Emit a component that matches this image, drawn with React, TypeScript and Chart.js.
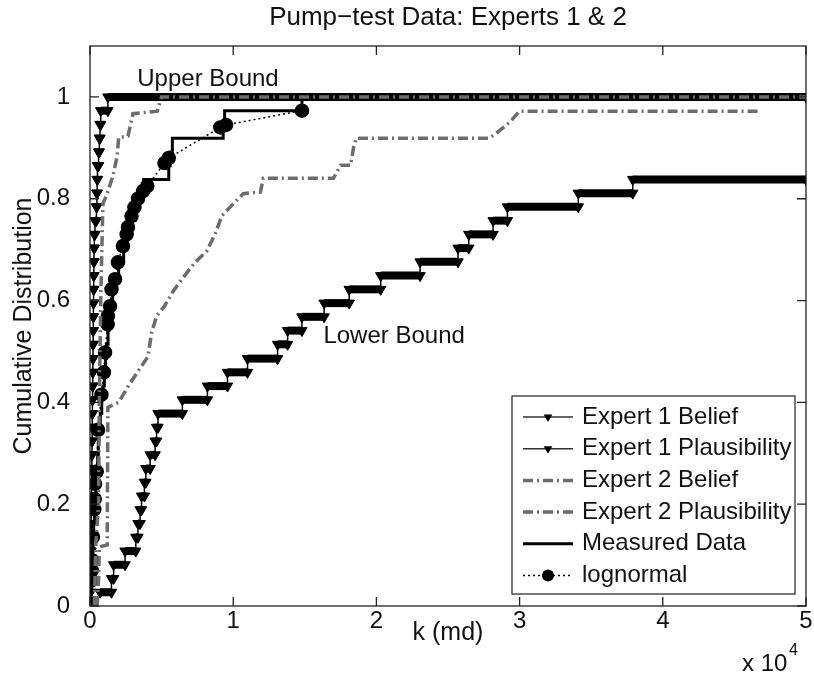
import React, { useEffect, useRef } from "react";
import { Chart, registerables } from "chart.js";

Chart.register(...registerables);

const FONT = "'Liberation Sans', Arial, Helvetica, sans-serif";
const TITLE = "Pump\u2212test Data: Experts 1 & 2";
const X_LABEL = "k (md)";
const Y_LABEL = "Cumulative Distribution";
const X_MULT = "x 10";
const X_MULT_EXP = "4";
const UPPER_LABEL = "Upper Bound";
const LOWER_LABEL = "Lower Bound";

const xTickValues = [0, 1, 2, 3, 4, 5];
const yTickValues = [0, 0.2, 0.4, 0.6, 0.8, 1];

const legendLabels = [
  "Expert 1 Belief",
  "Expert 1 Plausibility",
  "Expert 2 Belief",
  "Expert 2 Plausibility",
  "Measured Data",
  "lognormal",
];

// k in units of 10^4 md
// Expert 1 Belief (lower bound): step risers x -> new level y
const e1BeliefX = [0.07, 0.15, 0.165, 0.245, 0.32, 0.335, 0.35, 0.36, 0.38, 0.39, 0.42, 0.455, 0.465, 0.475, 0.645, 0.82, 0.96, 1.1, 1.31, 1.38, 1.48, 1.635, 1.81, 2.03, 2.305, 2.57, 2.645, 2.815, 2.915, 3.41, 3.79];
const e1BeliefY = [0.027, 0.054, 0.081, 0.108, 0.135, 0.162, 0.189, 0.216, 0.243, 0.27, 0.297, 0.324, 0.351, 0.378, 0.405, 0.432, 0.459, 0.486, 0.514, 0.541, 0.568, 0.595, 0.622, 0.649, 0.676, 0.703, 0.73, 0.757, 0.784, 0.811, 0.838];
const e1BeliefEnd = 5.0;

// Expert 1 Plausibility (upper bound)
const e1PlausX = [0.0, 0.003, 0.005, 0.006, 0.007, 0.008, 0.009, 0.01, 0.011, 0.012, 0.013, 0.014, 0.015, 0.016, 0.017, 0.018, 0.019, 0.02, 0.021, 0.022, 0.023, 0.024, 0.025, 0.026, 0.027, 0.028, 0.03, 0.035, 0.045, 0.048, 0.05, 0.052, 0.06, 0.065, 0.07, 0.075, 0.125];
const e1PlausY = [0.027, 0.054, 0.081, 0.108, 0.135, 0.162, 0.189, 0.216, 0.243, 0.27, 0.297, 0.324, 0.351, 0.378, 0.405, 0.432, 0.459, 0.486, 0.514, 0.541, 0.568, 0.595, 0.622, 0.649, 0.676, 0.703, 0.73, 0.757, 0.784, 0.811, 0.838, 0.865, 0.892, 0.919, 0.946, 0.973, 1.0];
const e1PlausEnd = 5.0;

// Expert 2 Belief
const e2BeliefX = [0.05, 0.06, 0.065, 0.12, 0.125, 0.2, 0.265, 0.335, 0.405, 0.43, 0.466, 0.52, 0.58, 0.65, 0.733, 0.815, 0.873, 0.92, 0.99, 1.07, 1.19, 1.21, 1.7, 1.75, 1.82, 1.84, 1.86, 2.79, 2.83, 2.93, 3.0, 4.68];
const e2BeliefY = [0, 0.05, 0.116, 0.12, 0.39, 0.4, 0.431, 0.461, 0.49, 0.537, 0.57, 0.589, 0.618, 0.645, 0.675, 0.697, 0.73, 0.766, 0.787, 0.81, 0.813, 0.84, 0.84, 0.866, 0.866, 0.9, 0.919, 0.919, 0.927, 0.95, 0.972, 0.972];

// Expert 2 Plausibility
const e2PlausX = [0.03, 0.035, 0.04, 0.06, 0.065, 0.075, 0.09, 0.12, 0.16, 0.19, 0.2, 0.265, 0.3, 0.47, 0.5, 5.0];
const e2PlausY = [0, 0.05, 0.12, 0.2, 0.4, 0.6, 0.79, 0.81, 0.845, 0.884, 0.92, 0.923, 0.967, 0.972, 1.0, 1.0];

// Measured data (empirical CDF risers)
const measuredX = [0, 0.008, 0.011, 0.015, 0.018, 0.022, 0.026, 0.032, 0.036, 0.042, 0.05, 0.054, 0.058, 0.062, 0.072, 0.082, 0.09, 0.1, 0.108, 0.114, 0.126, 0.132, 0.146, 0.158, 0.18, 0.2, 0.235, 0.26, 0.29, 0.315, 0.34, 0.375, 0.55, 0.56, 0.575, 0.93, 0.94, 1.48];
const measuredY = [0, 0.027, 0.054, 0.081, 0.108, 0.135, 0.162, 0.189, 0.216, 0.243, 0.27, 0.297, 0.324, 0.351, 0.378, 0.405, 0.432, 0.459, 0.486, 0.514, 0.541, 0.568, 0.595, 0.622, 0.649, 0.676, 0.703, 0.73, 0.757, 0.784, 0.811, 0.838, 0.865, 0.892, 0.919, 0.946, 0.973, 1.0];

// Lognormal fit
const lognormX = [0.0, 0.01, 0.012, 0.015, 0.02, 0.03, 0.033, 0.035, 0.047, 0.056, 0.08, 0.097, 0.105, 0.123, 0.125, 0.14, 0.15, 0.175, 0.195, 0.23, 0.256, 0.265, 0.29, 0.31, 0.335, 0.37, 0.4, 0.52, 0.55, 0.91, 0.95, 1.48];
const lognormY = [0.005, 0.05, 0.07, 0.09, 0.136, 0.19, 0.21, 0.24, 0.264, 0.346, 0.415, 0.459, 0.498, 0.553, 0.57, 0.589, 0.622, 0.642, 0.675, 0.707, 0.73, 0.744, 0.766, 0.783, 0.8, 0.815, 0.825, 0.87, 0.88, 0.94, 0.945, 0.973];

const BLACK = "#000000";
const GRAY = "#6c6c6c";
const TEXT = "#111111";
const DASHDOT = [10, 4, 2, 4];
const DOTTED = [2, 3];

function stairs(xs: number[], ys: number[], xEnd: number) {
  const pts: { x: number; y: number }[] = [];
  for (let i = 0; i < xs.length; i++) {
    const next = i + 1 < xs.length ? xs[i + 1] : xEnd;
    pts.push({ x: xs[i], y: ys[i] });
    pts.push({ x: next, y: ys[i] });
  }
  return pts;
}

function pairs(xs: number[], ys: number[]) {
  return xs.map((x, i) => ({ x, y: ys[i] }));
}

const bandSegment = {
  borderWidth: (c: any) =>
    c.p0.parsed.y === c.p1.parsed.y && c.p1.parsed.x - c.p0.parsed.x > 1e-9 ? 8 : 1.5,
};

function drawDownTriangle(ctx: CanvasRenderingContext2D, x: number, y: number, r: number) {
  ctx.beginPath();
  ctx.moveTo(x, y + r);
  ctx.lineTo(x - r * 0.866, y - r * 0.5);
  ctx.lineTo(x + r * 0.866, y - r * 0.5);
  ctx.closePath();
  ctx.fill();
}

const decorPlugin = {
  id: "decor",
  afterDatasetsDraw(chart: any) {
    const { ctx, chartArea: a, scales } = chart;
    const x = scales.x;
    const y = scales.y;
    ctx.save();
    // axes box
    ctx.strokeStyle = "#222";
    ctx.lineWidth = 1.3;
    ctx.strokeRect(a.left, a.top, a.right - a.left, a.bottom - a.top);
    // inward ticks on all four sides
    const tl = 9;
    ctx.beginPath();
    for (const v of xTickValues) {
      const px = x.getPixelForValue(v);
      ctx.moveTo(px, a.bottom);
      ctx.lineTo(px, a.bottom - tl);
      ctx.moveTo(px, a.top);
      ctx.lineTo(px, a.top + tl);
    }
    for (const v of yTickValues) {
      const py = y.getPixelForValue(v);
      ctx.moveTo(a.left, py);
      ctx.lineTo(a.left + tl, py);
      ctx.moveTo(a.right, py);
      ctx.lineTo(a.right - tl, py);
    }
    ctx.stroke();

    // annotations
    ctx.fillStyle = TEXT;
    ctx.font = `24px ${FONT}`;
    ctx.textBaseline = "middle";
    ctx.textAlign = "left";
    ctx.fillText(UPPER_LABEL, x.getPixelForValue(0.33), y.getPixelForValue(1.035));
    ctx.fillText(LOWER_LABEL, x.getPixelForValue(1.63), y.getPixelForValue(0.53));

    // x 10^4 multiplier
    ctx.font = `24px ${FONT}`;
    ctx.fillText(X_MULT, 742, 664);
    ctx.font = `16px ${FONT}`;
    ctx.fillText(X_MULT_EXP, 789, 651);

    // legend
    const L = { left: 512, top: 396, right: 795, bottom: 594 };
    ctx.fillStyle = "#ffffff";
    ctx.fillRect(L.left, L.top, L.right - L.left, L.bottom - L.top);
    ctx.strokeStyle = "#222";
    ctx.lineWidth = 1.2;
    ctx.strokeRect(L.left, L.top, L.right - L.left, L.bottom - L.top);
    const s0 = 523;
    const s1 = 573;
    const sm = 548;
    legendLabels.forEach((label, i) => {
      const cy = L.top + 21 + i * 31.7;
      ctx.save();
      if (i === 0 || i === 1) {
        ctx.strokeStyle = "#333";
        ctx.lineWidth = 1.5;
        ctx.setLineDash([]);
        ctx.beginPath();
        ctx.moveTo(s0, cy);
        ctx.lineTo(s1, cy);
        ctx.stroke();
        ctx.fillStyle = BLACK;
        drawDownTriangle(ctx, sm, cy, 5);
      } else if (i === 2 || i === 3) {
        ctx.strokeStyle = GRAY;
        ctx.lineWidth = 3.5;
        ctx.setLineDash(DASHDOT);
        ctx.beginPath();
        ctx.moveTo(s0, cy);
        ctx.lineTo(s1, cy);
        ctx.stroke();
      } else if (i === 4) {
        ctx.strokeStyle = BLACK;
        ctx.lineWidth = 3;
        ctx.beginPath();
        ctx.moveTo(s0, cy);
        ctx.lineTo(s1, cy);
        ctx.stroke();
      } else {
        ctx.strokeStyle = BLACK;
        ctx.lineWidth = 1.5;
        ctx.setLineDash(DOTTED);
        ctx.beginPath();
        ctx.moveTo(s0, cy);
        ctx.lineTo(s1, cy);
        ctx.stroke();
        ctx.setLineDash([]);
        ctx.fillStyle = BLACK;
        ctx.beginPath();
        ctx.arc(sm, cy, 6, 0, Math.PI * 2);
        ctx.fill();
      }
      ctx.restore();
      ctx.fillStyle = TEXT;
      ctx.font = `24px ${FONT}`;
      ctx.textAlign = "left";
      ctx.textBaseline = "middle";
      ctx.fillText(label, 582, cy);
    });
    ctx.restore();
  },
};

export default function App() {
  const ref = useRef<HTMLCanvasElement | null>(null);

  useEffect(() => {
    if (!ref.current) return;
    const tickFont = { family: FONT, size: 24 };
    const chart = new Chart(ref.current, {
      type: "line",
      data: {
        datasets: [
          {
            label: legendLabels[3],
            data: pairs(e2PlausX, e2PlausY),
            borderColor: GRAY,
            borderWidth: 3.5,
            borderDash: DASHDOT,
            pointRadius: 0,
            fill: false,
          },
          {
            label: legendLabels[2],
            data: pairs(e2BeliefX, e2BeliefY),
            borderColor: GRAY,
            borderWidth: 3.5,
            borderDash: DASHDOT,
            pointRadius: 0,
            fill: false,
          },
          {
            label: legendLabels[5],
            data: pairs(lognormX, lognormY),
            borderColor: BLACK,
            borderWidth: 1.5,
            borderDash: DOTTED,
            pointRadius: 6.5,
            pointStyle: "circle",
            pointBackgroundColor: BLACK,
            pointBorderColor: BLACK,
            fill: false,
          },
          {
            label: legendLabels[4],
            data: pairs(measuredX, measuredY),
            stepped: "before",
            borderColor: BLACK,
            borderWidth: 3,
            pointRadius: 0,
            fill: false,
          },
          {
            label: legendLabels[1],
            data: stairs(e1PlausX, e1PlausY, e1PlausEnd),
            borderColor: BLACK,
            borderWidth: 1.5,
            segment: bandSegment,
            pointRadius: 6,
            pointStyle: "triangle",
            pointRotation: 180,
            pointBackgroundColor: BLACK,
            pointBorderColor: BLACK,
            pointBorderWidth: 1,
            fill: false,
          },
          {
            label: legendLabels[0],
            data: stairs(e1BeliefX, e1BeliefY, e1BeliefEnd),
            borderColor: BLACK,
            borderWidth: 1.5,
            segment: bandSegment,
            pointRadius: 6,
            pointStyle: "triangle",
            pointRotation: 180,
            pointBackgroundColor: BLACK,
            pointBorderColor: BLACK,
            pointBorderWidth: 1,
            fill: false,
          },
        ] as any,
      },
      options: {
        responsive: false,
        maintainAspectRatio: false,
        devicePixelRatio: 1,
        animation: false,
        events: [],
        layout: { padding: { top: 2, right: 8, bottom: 0, left: 0 } },
        plugins: {
          legend: { display: false },
          tooltip: { enabled: false },
          title: {
            display: true,
            fullSize: false,
            text: TITLE,
            color: TEXT,
            font: { family: FONT, size: 26, weight: "normal" },
            padding: { top: 0, bottom: 12.8 },
          },
        },
        scales: {
          x: {
            type: "linear",
            min: 0,
            max: 5,
            afterBuildTicks: (s: any) => {
              s.ticks = xTickValues.map((v) => ({ value: v }));
            },
            afterFit: (s: any) => {
              s.height = 79;
              s.paddingLeft = 0;
              s.paddingRight = 0;
            },
            ticks: {
              font: tickFont,
              color: TEXT,
              padding: -7,
              maxRotation: 0,
              autoSkip: false,
              callback: (v: any) => String(v),
            },
            grid: { display: false },
            border: { display: false },
            title: {
              display: true,
              text: X_LABEL,
              color: TEXT,
              font: { family: FONT, size: 25 },
              padding: { top: 0, bottom: 37 },
            },
          },
          y: {
            type: "linear",
            min: 0,
            max: 1.1,
            afterBuildTicks: (s: any) => {
              s.ticks = yTickValues.map((v) => ({ value: v }));
            },
            afterFit: (s: any) => {
              s.width = 90;
              s.paddingTop = 0;
              s.paddingBottom = 0;
            },
            ticks: {
              font: tickFont,
              color: TEXT,
              padding: 12,
              autoSkip: false,
              callback: (v: any) => String(Math.round(Number(v) * 10) / 10),
            },
            grid: { display: false },
            border: { display: false },
            title: {
              display: true,
              text: Y_LABEL,
              color: TEXT,
              font: { family: FONT, size: 25 },
              padding: { top: 9, bottom: 0 },
            },
          },
        },
      } as any,
      plugins: [decorPlugin],
    });
    return () => chart.destroy();
  }, []);

  return (
    <div style={{ position: "absolute", left: 0, top: 0, width: 814, height: 685, background: "#fff" }}>
      <canvas ref={ref} width={814} height={685} style={{ display: "block", width: 814, height: 685 }} />
    </div>
  );
}
